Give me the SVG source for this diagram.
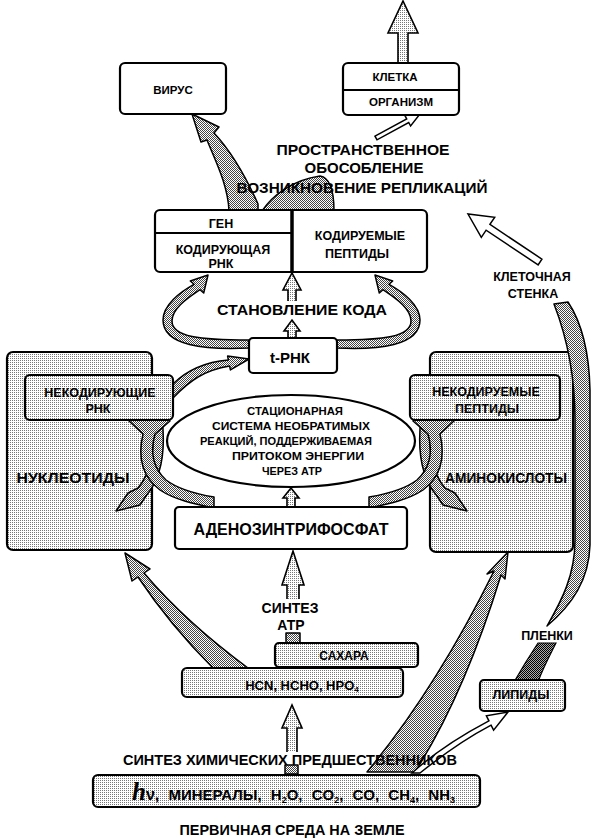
<svg xmlns="http://www.w3.org/2000/svg" width="591" height="838" viewBox="0 0 591 838">
<defs>
<pattern id="stip" width="2" height="2" patternUnits="userSpaceOnUse"><rect width="2" height="2" fill="#fff"/><rect width="1" height="1" fill="#777"/></pattern>
<pattern id="hatch" width="2" height="2" patternUnits="userSpaceOnUse"><rect width="2" height="2" fill="#fff"/><rect width="1" height="1" fill="#444"/><rect x="1" y="1" width="1" height="1" fill="#444"/></pattern>
<pattern id="dark" width="2" height="2" patternUnits="userSpaceOnUse"><rect width="2" height="2" fill="#aaa"/><rect width="1" height="1" fill="#000"/><rect x="1" y="1" width="1" height="1" fill="#000"/></pattern>
</defs>
<style>
.box{stroke:#000;stroke-width:2.2;fill:#fff}
.sbox{stroke:#000;stroke-width:2.2;fill:url(#stip)}
.t{font-family:"Liberation Sans",Arial,sans-serif;font-weight:bold;fill:#000;text-anchor:middle}
.band{fill:url(#hatch);stroke:#000;stroke-width:1.5;stroke-linejoin:round}
.dband{fill:url(#dark);stroke:#000;stroke-width:1.2}
.hol{fill:#fff;stroke:#000;stroke-width:1.5}
.sarr{fill:url(#stip);stroke:#000;stroke-width:1.6}
.line{stroke:#000;stroke-width:2;fill:none}
</style>

<g id="nucleotides">
<rect class="sbox" x="7" y="352" width="145" height="198" rx="6"/>
<text class="t" x="73" y="483" font-size="15.5" textLength="113" lengthAdjust="spacingAndGlyphs">НУКЛЕОТИДЫ</text>
</g>
<g id="aminoacids">
<rect class="sbox" x="430" y="352" width="143" height="200" rx="6"/>
<text class="t" x="506" y="483" font-size="14.5" textLength="122" lengthAdjust="spacingAndGlyphs">АМИНОКИСЛОТЫ</text>
</g>

<g id="connectors">
<!-- up from cell -->
<path class="sarr" d="M398,64 L398,33 L388,33 L403,1 L418,33 L408,33 L408,64 Z"/>
<!-- spatial separation to organism -->
<polygon class="hol" points="375,136.2 406.7,118.9 404.8,115.4 420,114 410.6,126 408.7,122.5 377,139.8"/>
<!-- horn to virus -->
<path class="band" d="M229,211 C228,185 215,160 207,140 L201,142 L192,114 L219,127 L214,133 C230,150 245,175 258,204 L258,211 Z"/>
<path class="band" d="M262,211 C272,196 292,180 320,176 C332,178 334,196 334,211 Z"/>
<!-- code formation arrows -->
<path class="sarr" d="M288,301 L288,290 L283,290 L292,273 L301,290 L296,290 L296,301"/>
<path class="sarr" d="M288,339 L288,331 L284,331 L292,320 L300,331 L296,331 L296,339"/>
<!-- tRNA loops -->
<path class="band" d="M249,348 C205,350 163,346 163,320 C163,305 180,292 194,284.3 L190.3,281 L208,275 L203.7,293 L200,289.7 C188,298 172,308 172,321 C172,337 200,340 249,340 Z"/>
<path class="band" d="M337,348 C378,350 420,346 420,320 C420,305 403,292 389,284.3 L392.7,281 L375,275 L379.3,293 L383,289.7 C395,298 411,308 411,321 C411,337 383,340 337,340 Z"/>
<!-- noncoding RNA to tRNA -->
<path class="band" d="M173,398 C190,380 205,370 229.6,366 L230.4,369.9 L249,359 L227.6,356.1 L228.4,360 C205,362 186,371 173,384 Z"/>
<!-- crossing bands left -->
<g id="cross-left">
<path class="band" d="M152,418 C156,450 150,474 138,488 L128,493 L116,511 L140,505 L146,496 C158,482 167,460 162,418 Z"/>
<path class="band" d="M143,434 C138,455 140,475 160,490 C175,500 195,504 214,508 L214,497 C196,494 178,489 166,480 C153,468 150,452 155,434 L170,421 L150,400 L128,420 Z"/>
</g>
<g id="cross-right" transform="matrix(-1 0 0 1 583 0)">
<path class="band" d="M152,418 C156,450 150,474 138,488 L128,493 L116,511 L140,505 L146,496 C158,482 167,460 162,418 Z"/>
<path class="band" d="M143,434 C138,455 140,475 160,490 C175,500 195,504 214,508 L214,497 C196,494 178,489 166,480 C153,468 150,452 155,434 L170,421 L150,400 L128,420 Z"/>
</g>
<!-- ATP to cycle -->
<path class="sarr" d="M287,507 L287,498 L283,498 L291,488 L299,498 L295,498 L295,507"/>
<!-- ATP synthesis -->
<path class="sarr" d="M287,599 L287,585 L282,585 L293,551 L304,585 L299,585 L299,599"/>
<rect class="band" x="286" y="633" width="14" height="10"/>
<!-- HCN to nucleotides -->
<path class="band" d="M213,668 C185,640 160,610 138,577 L132,581 L125,553 L150,569 L144,573 C172,606 210,640 248,668 Z"/>
<!-- precursors to amino acids -->
<path class="band" d="M367,772 C410,720 455,650 494,571 L487,574 L508,552 L505,579 L501,575 C478,650 448,720 415,772 Z"/>
<!-- precursors to lipids -->
<path class="hol" d="M412,773 C435,752 460,736 488.9,720.8 L486.4,715.8 L508,712 L493.6,730.2 L491.1,725.2 C463,740 440,757 420,773 Z"/>
<!-- lipids to films -->
<path class="dband" d="M514,682 C522,668 530,655 538,643 L556,643 C550,655 543,668 538,682 Z"/>
<!-- films to cell wall -->
<path class="band" d="M547,626 C562,600 575,575 575,540 L575,420 C575,380 568,340 554,304 L568,302 C580,320 589,345 590,390 L590,545 C589,580 572,605 547,626 Z"/>
<!-- cell wall to replication -->
<polygon class="hol" points="538.1,264.9 486.1,230.2 481.3,237.3 468,214 494.7,217.3 489.9,224.4 541.9,259.1"/>
<!-- environment to HCN -->
<path class="sarr" d="M287,752 L287,728 L282,728 L292,705 L302,728 L297,728 L297,752"/>
<rect class="band" x="285" y="765" width="13" height="9"/>
</g>

<g id="virus">
<rect class="box" x="120" y="63" width="106" height="51" rx="5"/>
<text class="t" x="173" y="94" font-size="11.5">ВИРУС</text>
</g>
<g id="cell">
<rect class="box" x="343" y="63" width="116" height="52" rx="5"/>
<line class="line" x1="343" y1="90" x2="459" y2="90"/>
<text class="t" x="395" y="81" font-size="11.5">КЛЕТКА</text>
<text class="t" x="401" y="106" font-size="11.5">ОРГАНИЗМ</text>
</g>
<g id="gene">
<rect class="box" x="155" y="210" width="272" height="62" rx="5"/>
<line x1="292" y1="210" x2="292" y2="272" stroke="#000" stroke-width="3.5"/>
<line class="line" x1="155" y1="233" x2="292" y2="233"/>
<text class="t" x="221" y="228" font-size="12.5">ГЕН</text>
<text class="t" x="223" y="254" font-size="12.5">КОДИРУЮЩАЯ</text>
<text class="t" x="221" y="268" font-size="12.5">РНК</text>
<text class="t" x="360" y="240" font-size="12.5">КОДИРУЕМЫЕ</text>
<text class="t" x="357" y="258" font-size="12.5">ПЕПТИДЫ</text>
</g>
<g id="trna">
<rect class="box" x="249" y="338" width="88" height="35" rx="4"/>
<text class="t" x="290" y="363" font-size="15">t-РНК</text>
</g>
<g id="ncrna">
<rect class="sbox" x="25" y="375" width="148" height="45" rx="5"/>
<text class="t" x="100" y="397" font-size="12.5">НЕКОДИРУЮЩИЕ</text>
<text class="t" x="98" y="413" font-size="12.5">РНК</text>
</g>
<g id="ncpep">
<rect class="sbox" x="410" y="375" width="150" height="45" rx="5"/>
<text class="t" x="486" y="396" font-size="12.5">НЕКОДИРУЕМЫЕ</text>
<text class="t" x="487" y="413" font-size="12.5">ПЕПТИДЫ</text>
</g>
<g id="cycle">
<ellipse cx="291" cy="441" rx="124" ry="46" fill="#fff" stroke="#000" stroke-width="2.2"/>
<text class="t" x="295" y="415" font-size="11" textLength="96" lengthAdjust="spacingAndGlyphs">СТАЦИОНАРНАЯ</text>
<text class="t" x="291" y="430" font-size="11" textLength="158" lengthAdjust="spacingAndGlyphs">СИСТЕМА НЕОБРАТИМЫХ</text>
<text class="t" x="286" y="445" font-size="11" textLength="172" lengthAdjust="spacingAndGlyphs">РЕАКЦИЙ, ПОДДЕРЖИВАЕМАЯ</text>
<text class="t" x="298" y="460" font-size="11" textLength="132" lengthAdjust="spacingAndGlyphs">ПРИТОКОМ ЭНЕРГИИ</text>
<text class="t" x="292" y="475" font-size="11" textLength="60" lengthAdjust="spacingAndGlyphs">ЧЕРЕЗ АТР</text>
</g>
<g id="atp">
<rect class="box" x="175" y="507" width="232" height="42" rx="4"/>
<text class="t" x="291" y="535" font-size="16.5" textLength="195" lengthAdjust="spacingAndGlyphs">АДЕНОЗИНТРИФОСФАТ</text>
</g>
<g id="sugars">
<rect class="sbox" x="275" y="643" width="143" height="24" rx="4"/>
<text class="t" x="344" y="660" font-size="12">САХАРА</text>
</g>
<g id="hcn">
<rect class="sbox" x="182" y="668" width="221" height="29" rx="5"/>
<text class="t" x="302" y="690" font-size="13">HCN, HCHO, HPO<tspan font-size="8" dy="2">4</tspan></text>
</g>
<g id="lipids">
<rect class="sbox" x="480" y="680" width="85" height="31" rx="4"/>
<text class="t" x="521" y="699" font-size="12.5">ЛИПИДЫ</text>
</g>
<g id="environment">
<rect class="sbox" x="93" y="775" width="387" height="32" rx="5"/>
<text x="132" y="800" font-family="'Liberation Sans',Arial,sans-serif" font-weight="bold" font-size="15" word-spacing="5"><tspan font-family="'Liberation Serif',serif" font-style="italic" font-size="25">h</tspan><tspan font-size="16">ν,</tspan> МИНЕРАЛЫ, H<tspan font-size="9" dy="3">2</tspan><tspan dy="-3">O, CO</tspan><tspan font-size="9" dy="3">2</tspan><tspan dy="-3">, CO, CH</tspan><tspan font-size="9" dy="3">4</tspan><tspan dy="-3">, NH</tspan><tspan font-size="9" dy="3">3</tspan></text>
</g>

<g id="labels">
<text class="t" x="363" y="155" font-size="15.5" textLength="173" lengthAdjust="spacingAndGlyphs">ПРОСТРАНСТВЕННОЕ</text>
<text class="t" x="364" y="173" font-size="15">ОБОСОБЛЕНИЕ</text>
<text class="t" x="362" y="193" font-size="15.5" textLength="251" lengthAdjust="spacingAndGlyphs">ВОЗНИКНОВЕНИЕ РЕПЛИКАЦИЙ</text>
<text class="t" x="302" y="315" font-size="15.5" textLength="170" lengthAdjust="spacingAndGlyphs">СТАНОВЛЕНИЕ КОДА</text>
<text class="t" x="532" y="281" font-size="12.5">КЛЕТОЧНАЯ</text>
<text class="t" x="533" y="298" font-size="12.5">СТЕНКА</text>
<text class="t" x="547" y="640" font-size="12.5">ПЛЕНКИ</text>
<text class="t" x="290" y="613" font-size="14">СИНТЕЗ</text>
<text class="t" x="291" y="630" font-size="14">АТР</text>
<text class="t" x="290" y="765" font-size="14" textLength="334" lengthAdjust="spacingAndGlyphs">СИНТЕЗ ХИМИЧЕСКИХ ПРЕДШЕСТВЕННИКОВ</text>
<text class="t" x="292" y="835" font-size="14" textLength="225" lengthAdjust="spacingAndGlyphs">ПЕРВИЧНАЯ СРЕДА НА ЗЕМЛЕ</text>
</g>
</svg>
